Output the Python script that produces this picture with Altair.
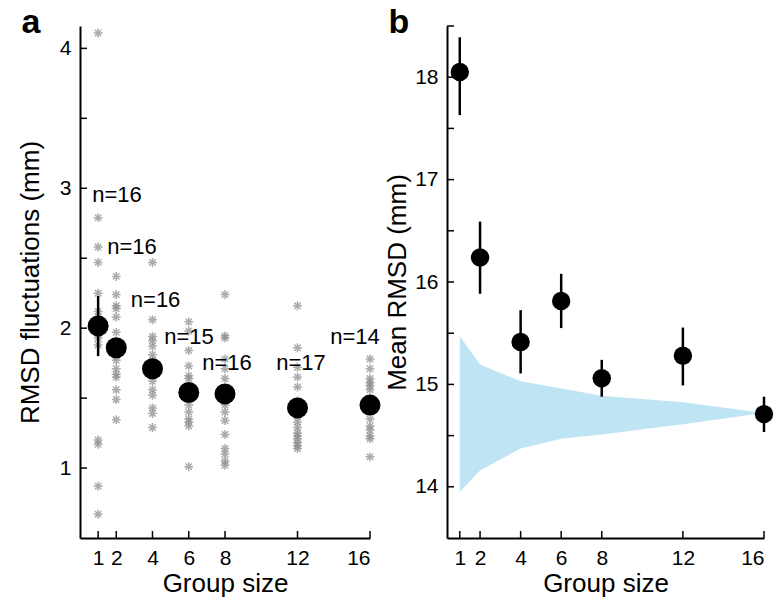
import altair as alt
import pandas as pd

FONT = "Liberation Sans"

# ---------------- Panel a data ----------------
group_sizes = [1, 2, 4, 6, 8, 12, 16]

pts_g1 = [4.11, 2.79, 2.58, 2.47, 2.25, 2.12, 2.08, 2.05, 2.00, 1.96, 1.93, 1.88, 1.20, 1.17, 0.87, 0.67]
pts_g2 = [2.37, 2.24, 2.16, 2.14, 2.08, 1.97, 1.90, 1.84, 1.80, 1.77, 1.71, 1.67, 1.65, 1.56, 1.49, 1.345]
pts_g4 = [2.47, 2.06, 1.94, 1.91, 1.87, 1.81, 1.77, 1.73, 1.69, 1.66, 1.62, 1.56, 1.52, 1.43, 1.39, 1.29]
pts_g6 = [2.045, 1.98, 1.84, 1.73, 1.66, 1.64, 1.58, 1.55, 1.50, 1.45, 1.40, 1.35, 1.33, 1.30, 1.01]
pts_g8 = [2.24, 1.945, 1.93, 1.78, 1.71, 1.64, 1.55, 1.50, 1.45, 1.40, 1.34, 1.24, 1.14, 1.10, 1.05, 1.02]
pts_g12 = [2.16, 1.86, 1.72, 1.65, 1.58, 1.48, 1.44, 1.40, 1.37, 1.33, 1.29, 1.25, 1.23, 1.21, 1.18, 1.16, 1.14]
pts_g16 = [1.78, 1.71, 1.64, 1.61, 1.59, 1.56, 1.50, 1.42, 1.35, 1.30, 1.27, 1.23, 1.21, 1.08]

a_means = [2.016, 1.86, 1.71, 1.54, 1.53, 1.43, 1.45]
a_err_lo = [1.80, 1.81, 1.66, 1.49, 1.48, 1.38, 1.40]
a_err_hi = [2.23, 1.91, 1.76, 1.59, 1.58, 1.48, 1.50]

n_labels = ["n=16", "n=16", "n=16", "n=15", "n=16", "n=17", "n=14"]
n_label_x = [2.04, 2.87, 4.17, 6.01, 8.11, 12.19, 15.17]
n_label_y = [2.95, 2.58, 2.20, 1.94, 1.75, 1.75, 1.94]

a_yticks = [1, 1.5, 2, 2.5, 3, 3.5, 4]

# ---------------- Panel b data ----------------
b_means = [18.05, 16.24, 15.415, 15.815, 15.06, 15.28, 14.71]
b_err_lo = [17.63, 15.885, 15.107, 15.55, 14.88, 14.99, 14.535]
b_err_hi = [18.39, 16.59, 15.725, 16.08, 15.24, 15.555, 14.88]

band_lo = [13.95, 14.16, 14.375, 14.47, 14.51, 14.61, 14.72]
band_hi = [15.47, 15.195, 15.03, 14.96, 14.89, 14.825, 14.72]

b_yticks = [14, 14.5, 15, 15.5, 16, 16.5, 17, 17.5, 18, 18.5]

# ---------------- tables ----------------
all_pts = [pts_g1, pts_g2, pts_g4, pts_g6, pts_g8, pts_g12, pts_g16]
pts_df = pd.DataFrame(
    [{"g": g, "v": v} for g, vals in zip(group_sizes, all_pts) for v in vals]
)
a_df = pd.DataFrame({"g": group_sizes, "m": a_means, "lo": a_err_lo, "hi": a_err_hi})
lab_df = pd.DataFrame({"x": n_label_x, "y": n_label_y, "t": n_labels})
b_df = pd.DataFrame({"g": group_sizes, "m": b_means, "lo": b_err_lo, "hi": b_err_hi,
                     "blo": band_lo, "bhi": band_hi})
xt_df = pd.DataFrame({"g": group_sizes})
ayt_df = pd.DataFrame({"v": a_yticks})
byt_df = pd.DataFrame({"v": b_yticks})

W_A, W_B, H = 290, 317, 512

ASTERISK = "M-1,0L1,0M0,-1L0,1M-0.71,-0.71L0.71,0.71M-0.71,0.71L0.71,-0.71"

def xaxis():
    return alt.Axis(values=group_sizes, title="Group size", ticks=False, grid=False,
                    labelFontSize=21, titleFontSize=26, labelPadding=9, titlePadding=2,
                    labelColor="black", titleColor="black", titleFontWeight="normal",
                    domainColor="black", domainWidth=2)

def yaxis(title, vals, tp):
    return alt.Axis(values=vals, title=title, ticks=False, grid=False, format="d",
                    labelFontSize=21, titleFontSize=26, labelPadding=9, titlePadding=tp,
                    labelColor="black", titleColor="black", titleFontWeight="normal",
                    domainColor="black", domainWidth=2)

# ---------------- panel a ----------------
xa = alt.Scale(domain=[0, 16], nice=False, zero=False)
ya = alt.Scale(domain=[0.5, 4.16], nice=False, zero=False)

a_pts = alt.Chart(pts_df).mark_point(shape=ASTERISK, filled=False, color="#8a8a8a",
                                     strokeWidth=1.5, size=80).encode(
    x=alt.X("g:Q", scale=xa, axis=xaxis()),
    y=alt.Y("v:Q", scale=ya, axis=yaxis("RMSD fluctuations (mm)", [1, 2, 3, 4], 16)),
)
a_err = alt.Chart(a_df).mark_rule(color="black", strokeWidth=2.5).encode(
    x=alt.X("g:Q", scale=xa), y=alt.Y("lo:Q", scale=ya), y2="hi:Q")
a_dot = alt.Chart(a_df).mark_circle(color="black", opacity=1, size=440).encode(
    x=alt.X("g:Q", scale=xa), y=alt.Y("m:Q", scale=ya))
a_lab = alt.Chart(lab_df).mark_text(fontSize=22, font=FONT, color="black",
                                    align="center", baseline="middle").encode(
    x=alt.X("x:Q", scale=xa), y=alt.Y("y:Q", scale=ya), text="t:N")
a_xt = alt.Chart(xt_df).mark_rule(color="black", strokeWidth=1.5).encode(
    x=alt.X("g:Q", scale=xa), y=alt.value(H - 7), y2=alt.value(H))
a_yt = alt.Chart(ayt_df).mark_rule(color="black", strokeWidth=1.5).encode(
    y=alt.Y("v:Q", scale=ya), x=alt.value(0), x2=alt.value(7))
a_tag = alt.Chart(pd.DataFrame({"t": ["a"]})).mark_text(
    fontSize=34, fontWeight="bold", font=FONT, color="black", align="center",
    baseline="alphabetic").encode(x=alt.value(-49), y=alt.value(7), text="t:N")

panel_a = alt.layer(a_pts, a_err, a_dot, a_lab, a_xt, a_yt, a_tag).properties(
    width=W_A, height=H)

# ---------------- panel b ----------------
xb = alt.Scale(domain=[0.37, 16], nice=False, zero=False)
yb = alt.Scale(domain=[13.5, 18.5], nice=False, zero=False)

b_band = alt.Chart(b_df).mark_area(color="#bfe4f4", opacity=1).encode(
    x=alt.X("g:Q", scale=xb, axis=xaxis()),
    y=alt.Y("blo:Q", scale=yb, axis=yaxis("Mean RMSD (mm)", [14, 15, 16, 17, 18], 4)),
    y2="bhi:Q")
b_err = alt.Chart(b_df).mark_rule(color="black", strokeWidth=2.5).encode(
    x=alt.X("g:Q", scale=xb), y=alt.Y("lo:Q", scale=yb), y2="hi:Q")
b_dot = alt.Chart(b_df).mark_circle(color="black", opacity=1, size=340).encode(
    x=alt.X("g:Q", scale=xb), y=alt.Y("m:Q", scale=yb))
b_xt = alt.Chart(xt_df).mark_rule(color="black", strokeWidth=1.5).encode(
    x=alt.X("g:Q", scale=xb), y=alt.value(H - 7), y2=alt.value(H))
b_yt = alt.Chart(byt_df).mark_rule(color="black", strokeWidth=1.5).encode(
    y=alt.Y("v:Q", scale=yb), x=alt.value(0), x2=alt.value(7))
b_tag = alt.Chart(pd.DataFrame({"t": ["b"]})).mark_text(
    fontSize=34, fontWeight="bold", font=FONT, color="black", align="center",
    baseline="alphabetic").encode(x=alt.value(-48), y=alt.value(7), text="t:N")

panel_b = alt.layer(b_band, b_err, b_dot, b_xt, b_yt, b_tag).properties(
    width=W_B, height=H)

chart = alt.hconcat(panel_a, panel_b, spacing=3).properties(
    padding={"left": 17, "top": 6, "right": 5, "bottom": 5},
    background="white",
).configure_view(stroke=None).configure_axis(
    labelFont=FONT, titleFont=FONT
)

chart.save("out.html", embed_options={"renderer": "svg", "actions": False})
